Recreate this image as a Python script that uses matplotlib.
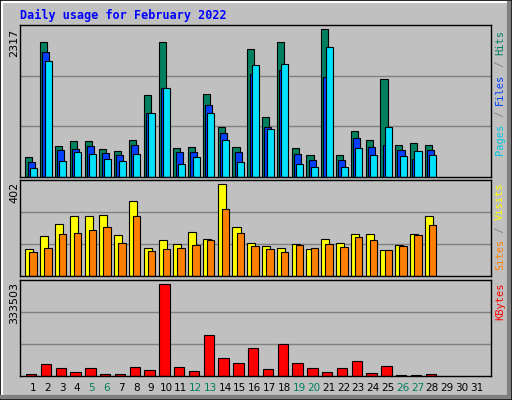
import matplotlib
matplotlib.use("Agg")
import matplotlib.pyplot as plt
from matplotlib.patches import Rectangle
from matplotlib.lines import Line2D

days = list(range(1, 29))
all_days = list(range(1, 32))
hits = [309,2113,493,571,571,446,414,587,1279,2113,461,477,1295,792,477,2003,949,2113,461,351,2317,351,714,587,1533,509,540,509]
files = [241,1955,430,446,493,383,351,508,1012,1389,398,398,1122,697,398,1609,792,1672,367,273,1562,273,619,477,509,430,288,430]
pages = [147,1813,257,398,367,288,257,367,1012,1389,210,320,997,587,241,1751,760,1766,210,162,2034,162,461,351,792,335,414,351]
visits = [118,175,227,262,262,267,179,328,122,157,140,192,162,402,214,144,131,122,140,118,162,144,184,184,114,135,184,262]
sites = [105,122,184,188,201,214,144,262,109,118,122,135,157,293,188,131,118,105,135,122,140,127,170,157,114,131,179,223]
kbytes = [8520,45030,30430,15820,30430,8520,8520,34080,23120,333503,34080,19470,147260,66940,48680,99800,26770,114400,48680,30430,15820,30430,55980,12170,37730,4870,4870,8520]
weekend = [5,6,12,13,19,20,26,27]

W, H = 512, 400
fig = plt.figure(figsize=(W/100, H/100), dpi=100)
fig.patch.set_facecolor("#c0c0c0")
mono = "DejaVu Sans Mono"

def fx(x): return x / W
def fy(y): return 1 - y / H
fig.add_artist(Rectangle((0, 0), 1, 1, transform=fig.transFigure, fill=False, ec="black", lw=1.2))
fig.add_artist(Line2D([fx(1.5), fx(1.5), fx(510)], [fy(398), fy(1.5), fy(1.5)], transform=fig.transFigure, color="white", lw=1.5))
fig.add_artist(Line2D([fx(2), fx(508.5), fx(508.5)], [fy(396.5), fy(396.5), fy(3)], transform=fig.transFigure, color="#808080", lw=3))

fig.text(fx(20), fy(15), "Daily usage for February 2022", color="#0000ff", fontsize=8.5,
         fontweight="bold", family=mono, va="center", ha="left")

xl = (0.14, 31.97)
left, right = fx(20), fx(491)

def mkax(y0, y1):
    ax = fig.add_axes([left, fy(y1), right - left, (y1 - y0) / H])
    ax.set_facecolor("#c0c0c0")
    ax.set_xlim(*xl)
    ax.set_xticks([]); ax.set_yticks([])
    for s in ax.spines.values():
        s.set_color("black"); s.set_linewidth(1)
    return ax

def grid(ax, top):
    for f in (1/3, 2/3):
        ax.axhline(top * f, color="#808080", lw=1, zorder=0)

ek = dict(edgecolor="black", linewidth=0.8, align="edge")

ax1 = mkax(25, 177)
top1 = 2317 * 455 / 442
ax1.set_ylim(0, top1)
grid(ax1, top1)
ax1.bar([d - 0.5 for d in days], hits, width=0.48, color="#008060", **ek)
ax1.bar([d - 0.35 for d in days], files, width=0.48, color="#0040ff", **ek)
ax1.bar([d - 0.2 for d in days], pages, width=0.48, color="#00e0ff", **ek)
fig.text(fx(14), fy(29), "2317", rotation=90, ha="center", va="top", fontsize=8)

ax2 = mkax(180, 276)
top2 = 402 * 289 / 276
ax2.set_ylim(0, top2)
grid(ax2, top2)
ax2.bar([d - 0.5 for d in days], visits, width=0.55, color="#ffff00", **ek)
ax2.bar([d - 0.22 for d in days], sites, width=0.5, color="#ff8000", **ek)
fig.text(fx(14), fy(182), "402", rotation=90, ha="center", va="top", fontsize=8)

ax3 = mkax(280, 376)
top3 = 333503 * 286 / 274
ax3.set_ylim(0, top3)
grid(ax3, top3)
ax3.bar([d - 0.45 for d in days], kbytes, width=0.7, color="#ff0000", **ek)
fig.text(fx(14), fy(282), "333503", rotation=90, ha="center", va="top", fontsize=8)

for d in all_days:
    ax3.text(d, -0.12, str(d), transform=ax3.get_xaxis_transform(), ha="center", va="center",
             fontsize=7.5, color="#00805c" if d in weekend else "black")

def vlabel(ax, parts, top_frac):
    fs = 7.5
    renderer = fig.canvas.get_renderer()
    ytop = ax.transAxes.transform((0, top_frac))[1]
    texts = [fig.text(0, 0, s, rotation=90, fontsize=fs, family=mono, color=c) for s, c in parts]
    lens = [t.get_window_extent(renderer).height for t in texts]
    xpix = fig.transFigure.transform((fx(500), 0))[0]
    cur = ytop - sum(lens)
    for t, L in zip(texts, lens):
        t.set_position(fig.transFigure.inverted().transform((xpix, cur)))
        t.set_ha("center"); t.set_va("bottom")
        cur += L

vlabel(ax1, [("Pages", "#00c8e0"), (" / ", "#808080"), ("Files", "#0040ff"), (" / ", "#808080"), ("Hits", "#008060")], 0.97)
vlabel(ax2, [("Sites", "#ff8000"), (" / ", "#808080"), ("Visits", "#ffff00")], 0.97)
vlabel(ax3, [("KBytes", "#ff0000")], 0.97)

fig.savefig("out.png", dpi=100, facecolor=fig.get_facecolor())
